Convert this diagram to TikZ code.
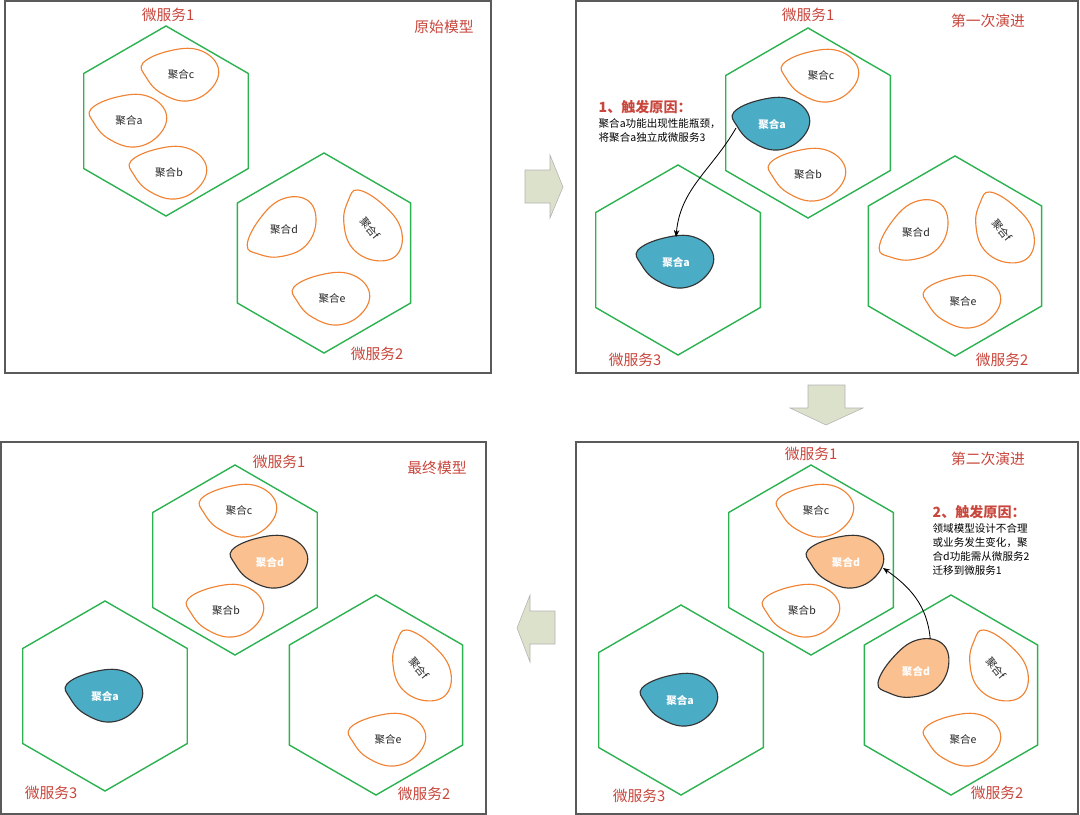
\documentclass[tikz,border=0pt]{standalone}
\usepackage{fontspec}
\setmainfont{Noto Sans CJK SC}
\usepackage{tikz}
\usetikzlibrary{shapes.geometric,positioning,arrows.meta}

\definecolor{msgreen}{RGB}{44,178,80}
\definecolor{aggorange}{RGB}{240,130,50}
\definecolor{titlered}{RGB}{200,70,60}
\definecolor{aggblue}{RGB}{75,172,198}
\definecolor{aggpeach}{RGB}{250,192,144}
\definecolor{arrowfill}{RGB}{220,225,204}
\definecolor{framegray}{RGB}{90,90,90}

\tikzset{
  panel/.style={draw=framegray, line width=0.8pt},
  hexa/.style={regular polygon, regular polygon sides=6, shape border rotate=30,
    draw=msgreen, line width=1pt, inner sep=0pt, outer sep=0pt, minimum size=4.75cm},
  bighexa/.style={hexa, minimum size=5cm},
  msname/.style={text=titlered, font=\fontsize{10.5}{12}\selectfont},
  aggplain/.style={draw=aggorange, fill=white, line width=0.8pt},
  aggplaintext/.style={font=\fontsize{7.5}{9}\selectfont, text=black!85},
  aggblue/.style={draw=black!80, fill=aggblue, line width=0.8pt},
  aggbluetext/.style={font=\fontsize{7.5}{9}\selectfont\bfseries, text=white},
  aggpeach/.style={draw=black!80, fill=aggpeach, line width=0.8pt},
  aggpeachtext/.style={font=\fontsize{7.5}{9}\selectfont\bfseries, text=white},
  blockarrow/.style={fill=arrowfill, draw=gray!60, line width=0.4pt},
  conn/.style={-{Stealth[length=5pt,width=4pt]}, line width=0.6pt},
  whytitle/.style={text=titlered, font=\fontsize{10}{12}\selectfont\bfseries, inner sep=1pt},
  whytext/.style={font=\fontsize{7.5}{10}\selectfont, align=left, inner sep=1pt},
}

% name, center, shape rotation, style, label, label rotation
\newcommand{\aggblob}[6]{%
  \begin{scope}[shift={#2}, rotate=#3]
    \draw[#4] plot[smooth cycle, tension=0.7] coordinates
      {(-38,-12) (-12,-24) (18,-25) (37,-8) (30,14) (6,26) (-20,18) (-35,2)};
    \coordinate (#1-n) at (0,-25);
    \coordinate (#1-w) at (-36,4);
    \coordinate (#1-e) at (37,6);
    \coordinate (#1-ne) at (30,-18);
  \end{scope}
  \node[#4text, rotate=#6] (#1) at #2 {#5};
}

\begin{document}
\begin{tikzpicture}[x=0.025cm, y=-0.025cm]
  \useasboundingbox (0,0) rectangle (1080,815);

  % frames
  \draw[panel] (5,1) rectangle (491,373);
  \draw[panel] (576,1) rectangle (1078,373);
  \draw[panel] (1,442) rectangle (486,814);
  \draw[panel] (576,442) rectangle (1078,814);

  % block arrows between the stages
  \filldraw[blockarrow] (525,170) -- (550,170) -- (550,155) -- (563,187)
    -- (550,218) -- (550,203) -- (525,203) -- cycle;
  \filldraw[blockarrow] (808,385) -- (845,385) -- (845,408) -- (863,408)
    -- (826,425) -- (790,408) -- (808,408) -- cycle;
  \filldraw[blockarrow] (555,611) -- (530,611) -- (530,595) -- (517,628)
    -- (530,662) -- (530,644) -- (555,644) -- cycle;

  %%% original model
  \node[hexa] (p1ms1) at (166,121) {};
  \node[bighexa] (p1ms2) at (324,253) {};
  \node[msname] (p1ms1name) at (168,15) {微服务1};
  \node[msname] (p1ms2name) at (377,354) {微服务2};
  \node[msname] (p1stage) at (444,27) {原始模型};
  \aggblob{p1c}{(181,75)}{0}{aggplain}{聚合c}{0}
  \aggblob{p1a}{(129,121)}{0}{aggplain}{聚合a}{0}
  \aggblob{p1b}{(169,173)}{0}{aggplain}{聚合b}{0}
  \aggblob{p1d}{(284,230)}{40}{aggplain}{聚合d}{0}
  \aggblob{p1f}{(370,228)}{-55}{aggplain}{聚合f}{-50}
  \aggblob{p1e}{(332,299)}{0}{aggplain}{聚合e}{0}

  %%% first evolution
  \node[hexa] (p2ms1) at (808,123) {};
  \node[hexa] (p2ms3) at (678,260) {};
  \node[bighexa] (p2ms2) at (955,256) {};
  \node[msname] (p2ms1name) at (808,15) {微服务1};
  \node[msname] (p2ms3name) at (635,360) {微服务3};
  \node[msname] (p2ms2name) at (1002,360) {微服务2};
  \node[msname] (p2stage) at (988,21) {第一次演进};
  \aggblob{p2c}{(821,76)}{0}{aggplain}{聚合c}{0}
  \aggblob{p2a1}{(772,124)}{0}{aggblue}{聚合a}{0}
  \aggblob{p2b}{(808,175)}{0}{aggplain}{聚合b}{0}
  \aggblob{p2a3}{(676,262)}{0}{aggblue}{聚合a}{0}
  \aggblob{p2d}{(916,233)}{40}{aggplain}{聚合d}{0}
  \aggblob{p2f}{(1002,230)}{-55}{aggplain}{聚合f}{-50}
  \aggblob{p2e}{(963,302)}{0}{aggplain}{聚合e}{0}
  \draw[conn] (p2a1-w) to[out=240, in=85] (p2a3-n);
  \node[whytitle, anchor=west] (why1) at (597,107) {1、触发原因：};
  \node[whytext, below=1pt of why1.south west, anchor=north west] (why1txt)
    {聚合a功能出现性能瓶颈，\\将聚合a独立成微服务3};

  %%% second evolution
  \node[hexa] (p4ms1) at (811,560) {};
  \node[hexa] (p4ms3) at (681,700) {};
  \node[bighexa] (p4ms2) at (951,695) {};
  \node[msname] (p4ms1name) at (811,454) {微服务1};
  \node[msname] (p4ms3name) at (639,796) {微服务3};
  \node[msname] (p4ms2name) at (997,793) {微服务2};
  \node[msname] (p4stage) at (988,459) {第二次演进};
  \aggblob{p4c}{(816,511)}{0}{aggplain}{聚合c}{0}
  \aggblob{p4d1}{(846,562)}{0}{aggpeach}{聚合d}{0}
  \aggblob{p4b}{(802,611)}{0}{aggplain}{聚合b}{0}
  \aggblob{p4a}{(680,700)}{0}{aggblue}{聚合a}{0}
  \aggblob{p4d2}{(916,671)}{35}{aggpeach}{聚合d}{0}
  \aggblob{p4f}{(996,668)}{-55}{aggplain}{聚合f}{-50}
  \aggblob{p4e}{(963,740)}{0}{aggplain}{聚合e}{0}
  \draw[conn] (p4d2-ne) to[out=95, in=-35] (p4d1-e);
  \node[whytitle, anchor=west] (why2) at (931,512) {2、触发原因：};
  \node[whytext, below=1pt of why2.south west, anchor=north west] (why2txt)
    {领域模型设计不合理\\或业务发生变化，聚\\合d功能需从微服务2\\迁移到微服务1};

  %%% final model
  \node[hexa] (p3ms1) at (235,560) {};
  \node[hexa] (p3ms3) at (105,696) {};
  \node[bighexa] (p3ms2) at (376,695) {};
  \node[msname] (p3ms1name) at (279,462) {微服务1};
  \node[msname] (p3ms3name) at (51,793) {微服务3};
  \node[msname] (p3ms2name) at (424,794) {微服务2};
  \node[msname] (p3stage) at (437,468) {最终模型};
  \aggblob{p3c}{(239,511)}{0}{aggplain}{聚合c}{0}
  \aggblob{p3d}{(270,562)}{0}{aggpeach}{聚合d}{0}
  \aggblob{p3b}{(226,611)}{0}{aggplain}{聚合b}{0}
  \aggblob{p3a}{(105,696)}{0}{aggblue}{聚合a}{0}
  \aggblob{p3f}{(419,668)}{-55}{aggplain}{聚合f}{-50}
  \aggblob{p3e}{(388,740)}{0}{aggplain}{聚合e}{0}
\end{tikzpicture}
\end{document}
